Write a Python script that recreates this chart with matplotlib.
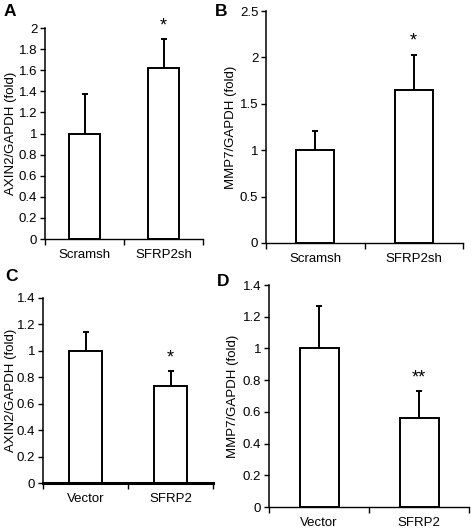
import matplotlib
matplotlib.use("Agg")
import matplotlib.pyplot as plt
import numpy as np

plt.rcParams['font.family'] = ['Liberation Sans', 'DejaVu Sans']

cats_top = ["Scramsh", "SFRP2sh"]
cats_bottom = ["Vector", "SFRP2"]

axin2_kd = [1.0, 1.62]
axin2_kd_err = [0.37, 0.28]
mmp7_kd = [1.0, 1.65]
mmp7_kd_err = [0.21, 0.38]
axin2_oe = [1.0, 0.735]
axin2_oe_err = [0.145, 0.115]
mmp7_oe = [1.0, 0.56]
mmp7_oe_err = [0.265, 0.17]

W, H = 472, 529
fig = plt.figure(figsize=(W/100, H/100), dpi=100)

def make_ax(l, r, t, b):
    return fig.add_axes([l/W, 1 - b/H, (r-l)/W, (b-t)/H])

FS = 9.5

panels = [
    dict(box=(45, 203, 28, 239), cats=cats_top, vals=axin2_kd, err=axin2_kd_err,
         ymax=2.0, step=0.2, ylabel="AXIN2/GAPDH (fold)",
         sig=["", "*"], letter="A", lpos=(4, 16), ylx=11, xlw=1.0),
    dict(box=(266, 463, 11, 243), cats=cats_top, vals=mmp7_kd, err=mmp7_kd_err,
         ymax=2.5, step=0.5, ylabel="MMP7/GAPDH (fold)",
         sig=["", "*"], letter="B", lpos=(215, 16), ylx=231, xlw=1.0),
    dict(box=(43, 213, 298, 483), cats=cats_bottom, vals=axin2_oe, err=axin2_oe_err,
         ymax=1.4, step=0.2, ylabel="AXIN2/GAPDH (fold)",
         sig=["", "*"], letter="C", lpos=(5, 281), ylx=11, xlw=2.2),
    dict(box=(269, 469, 285, 507), cats=cats_bottom, vals=mmp7_oe, err=mmp7_oe_err,
         ymax=1.4, step=0.2, ylabel="MMP7/GAPDH (fold)",
         sig=["", "**"], letter="D", lpos=(217, 286), ylx=233, xlw=1.0),
]

for p in panels:
    l, r, t, b = p["box"]
    ax = make_ax(l, r, t, b)
    x = np.arange(len(p["cats"]))
    ax.bar(x, p["vals"], width=0.39, color="white", edgecolor="black", linewidth=1.4, zorder=2)
    ax.errorbar(x, p["vals"], yerr=[[0]*len(x), p["err"]], fmt="none", ecolor="black",
                elinewidth=1.4, capsize=2, capthick=1.4, zorder=1)
    for xi, v, e, s in zip(x, p["vals"], p["err"], p["sig"]):
        if s:
            ax.text(xi, v + e + p["ymax"]*0.02, s, ha="center", va="bottom", fontsize=13)
    ax.set_xlim(-0.5, len(x) - 0.5)
    ax.set_ylim(0, p["ymax"])
    ticks = np.arange(0, p["ymax"] + 1e-9, p["step"])
    ax.set_yticks(ticks)
    ax.set_yticklabels([f"{round(v, 2):g}" for v in ticks], fontsize=FS)
    ax.set_xticks(np.arange(-0.5, len(x), 1.0))
    ax.set_xticklabels([])
    ax.set_xticks(x, minor=True)
    ax.set_xticklabels(p["cats"], minor=True, fontsize=FS)
    ax.tick_params(axis="x", which="minor", length=0, pad=7)
    ax.tick_params(axis="x", which="major", length=4, direction="out", width=1)
    ax.tick_params(axis="y", length=3.5, width=1, pad=2)
    for side in ["top", "right"]:
        ax.spines[side].set_visible(False)
    ax.spines["left"].set_linewidth(1.1)
    ax.spines["bottom"].set_linewidth(p["xlw"])
    fig.text(p["ylx"]/W, 1 - ((t + b)/2)/H, p["ylabel"], rotation=90, ha="center",
             va="center", fontsize=FS)
    fig.text(p["lpos"][0]/W, 1 - p["lpos"][1]/H, p["letter"], fontsize=12.5,
             fontweight="bold", ha="left", va="baseline")

fig.savefig("out.png", dpi=100, facecolor="white")
